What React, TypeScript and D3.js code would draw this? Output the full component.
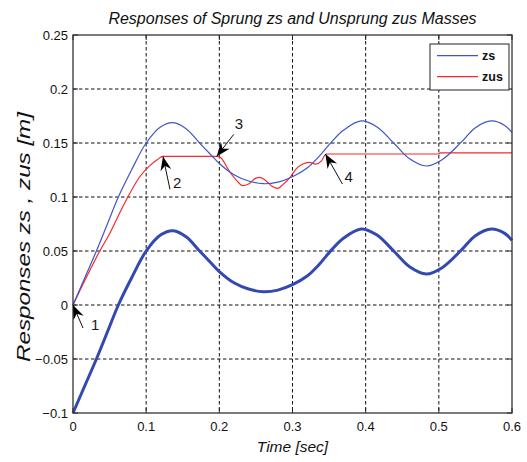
import React from "react";
import * as d3 from "d3";

// Sprung mass response zs (thin line) and its offset trace (thick line)
const zsTime = [0, 0.016, 0.032, 0.047, 0.062, 0.08, 0.1, 0.12, 0.137, 0.155, 0.173, 0.19, 0.2, 0.22, 0.24, 0.26, 0.28, 0.3, 0.32, 0.337, 0.351, 0.37, 0.394, 0.415, 0.44, 0.46, 0.483, 0.505, 0.531, 0.55, 0.572, 0.59, 0.6];
const zsValues = [0, 0.025, 0.05, 0.075, 0.1, 0.125, 0.15, 0.165, 0.1688, 0.163, 0.15, 0.138, 0.131, 0.1206, 0.1148, 0.1123, 0.1138, 0.1188, 0.1268, 0.138, 0.1492, 0.162, 0.1704, 0.165, 0.1488, 0.1354, 0.1287, 0.1348, 0.151, 0.1642, 0.1704, 0.1663, 0.1598];
const zsOffsetValues = [-0.1, -0.075, -0.05, -0.025, 0, 0.025, 0.05, 0.065, 0.0688, 0.063, 0.05, 0.038, 0.031, 0.0206, 0.0148, 0.0123, 0.0138, 0.0188, 0.0268, 0.038, 0.0492, 0.062, 0.0704, 0.065, 0.0488, 0.0354, 0.0287, 0.0348, 0.051, 0.0642, 0.0704, 0.0663, 0.0598];

// Unsprung mass response zus
const zusTime = [0, 0.02, 0.037, 0.05, 0.0665, 0.075, 0.091, 0.105, 0.115, 0.123, 0.198, 0.205, 0.21, 0.224, 0.232, 0.24, 0.25, 0.255, 0.262, 0.272, 0.28, 0.286, 0.297, 0.305, 0.314, 0.323, 0.332, 0.34, 0.3456, 0.5, 0.502, 0.6];
const zusValues = [0, 0.028, 0.0505, 0.066, 0.0889, 0.1, 0.1185, 0.129, 0.1345, 0.1376, 0.1376, 0.134, 0.128, 0.115, 0.1105, 0.112, 0.1175, 0.1182, 0.116, 0.11, 0.108, 0.111, 0.1185, 0.126, 0.1305, 0.132, 0.1305, 0.1336, 0.1398, 0.1398, 0.1408, 0.1408];

const xTicks = [0, 0.1, 0.2, 0.3, 0.4, 0.5, 0.6];
const yTicks = [-0.1, -0.05, 0, 0.05, 0.1, 0.15, 0.2, 0.25];

// Numbered arrows: tip in data units, label text
const markerTime = [0, 0.123, 0.1964, 0.345];
const markerValue = [0, 0.1376, 0.1376, 0.1398];
const markerLabels = ["1", "2", "3", "4"];
// tail offset (px) and label anchor offset (px) relative to the tip
const markerTail: [number, number][] = [[10, 23], [7, 33], [17, -22], [17, 30]];
const markerText: [number, number][] = [[18, 25], [10, 32], [18, -27], [19, 28]];

const W = 527;
const H = 462;
const M = { left: 73, right: 512, top: 35, bottom: 413 };
const FONT = "'Liberation Sans', Arial, Helvetica, sans-serif";

export default function App() {
  const x = d3.scaleLinear().domain([0, 0.6]).range([M.left, M.right]);
  const y = d3.scaleLinear().domain([-0.1, 0.25]).range([M.bottom, M.top]);

  const smooth = d3
    .line<[number, number]>()
    .x((d) => x(d[0]))
    .y((d) => y(d[1]))
    .curve(d3.curveCatmullRom.alpha(0.5));

  const monotone = d3
    .line<[number, number]>()
    .x((d) => x(d[0]))
    .y((d) => y(d[1]))
    .curve(d3.curveMonotoneX);

  const zsPts = zsTime.map((t, i) => [t, zsValues[i]] as [number, number]);
  const zsOffPts = zsTime.map((t, i) => [t, zsOffsetValues[i]] as [number, number]);
  const zusPts = zusTime.map((t, i) => [t, zusValues[i]] as [number, number]);

  const tickLen = 5;
  const dash = "3.5,2.5";

  const arrowHead = (tx: number, ty: number, ax: number, ay: number) => {
    const len = Math.hypot(ax - tx, ay - ty);
    const ux = (ax - tx) / len;
    const uy = (ay - ty) / len;
    const px = -uy;
    const py = ux;
    const hl = 14;
    const hw = 5.5;
    const bx = tx + ux * hl;
    const by = ty + uy * hl;
    const nx = tx + ux * hl * 0.68;
    const ny = ty + uy * hl * 0.68;
    return `M${tx},${ty} L${bx + px * hw},${by + py * hw} L${nx},${ny} L${bx - px * hw},${by - py * hw} Z`;
  };

  return (
    <svg
      width={W}
      height={H}
      style={{ position: "absolute", left: 0, top: 0, background: "#fff" }}
      fontFamily={FONT}
    >
      <rect x={0} y={0} width={W} height={H} fill="#fff" />

      {/* grid */}
      <g stroke="#111" strokeWidth={1} strokeDasharray={dash}>
        {xTicks.slice(1, -1).map((t) => (
          <line key={"gx" + t} x1={x(t)} x2={x(t)} y1={M.top} y2={M.bottom} />
        ))}
        {yTicks.slice(1, -1).map((t) => (
          <line key={"gy" + t} x1={M.left} x2={M.right} y1={y(t)} y2={y(t)} />
        ))}
      </g>

      {/* ticks on all four sides */}
      <g stroke="#222" strokeWidth={1}>
        {xTicks.map((t) => (
          <g key={"tx" + t}>
            <line x1={x(t)} x2={x(t)} y1={M.bottom} y2={M.bottom - tickLen} />
            <line x1={x(t)} x2={x(t)} y1={M.top} y2={M.top + tickLen} />
          </g>
        ))}
        {yTicks.map((t) => (
          <g key={"ty" + t}>
            <line x1={M.left} x2={M.left + tickLen} y1={y(t)} y2={y(t)} />
            <line x1={M.right} x2={M.right - tickLen} y1={y(t)} y2={y(t)} />
          </g>
        ))}
      </g>

      {/* series */}
      <path d={smooth(zsOffPts) ?? ""} fill="none" stroke="#3349b0" strokeWidth={3} strokeLinejoin="round" />
      <path d={monotone(zusPts) ?? ""} fill="none" stroke="#f52a2a" strokeWidth={1.2} />
      <path d={smooth(zsPts) ?? ""} fill="none" stroke="#3f55c8" strokeWidth={1.2} />

      {/* frame */}
      <rect
        x={M.left}
        y={M.top}
        width={M.right - M.left}
        height={M.bottom - M.top}
        fill="none"
        stroke="#333"
        strokeWidth={1.3}
      />

      {/* tick labels */}
      <g fontSize={13} fill="#111">
        {xTicks.map((t) => (
          <text key={"lx" + t} x={x(t)} y={M.bottom + 18} textAnchor="middle">
            {d3.format("")(t)}
          </text>
        ))}
        {yTicks.map((t) => (
          <text key={"ly" + t} x={M.left - 5} y={y(t)} dy="0.35em" textAnchor="end">
            {d3.format("")(t)}
          </text>
        ))}
      </g>

      {/* titles */}
      <text x={(M.left + M.right) / 2} y={24} textAnchor="middle" fontSize={16} fontStyle="italic" fill="#111">
        Responses of Sprung zs and Unsprung zus Masses
      </text>
      <text x={(M.left + M.right) / 2} y={452} textAnchor="middle" fontSize={15.5} fontStyle="italic" fill="#111">
        Time [sec]
      </text>
      <text
        transform={`translate(30,237) rotate(-90)`}
        textAnchor="middle"
        fontSize={18}
        fontStyle="italic"
        fill="#111"
        textLength={250}
        lengthAdjust="spacingAndGlyphs"
      >
        Responses  zs , zus [m]
      </text>

      {/* numbered arrows */}
      {markerLabels.map((lab, i) => {
        const tx = x(markerTime[i]);
        const ty = y(markerValue[i]);
        const ax = tx + markerTail[i][0];
        const ay = ty + markerTail[i][1];
        return (
          <g key={"m" + lab}>
            <line x1={tx} y1={ty} x2={ax} y2={ay} stroke="#111" strokeWidth={1} />
            <path d={arrowHead(tx, ty, ax, ay)} fill="#000" />
            <text x={tx + markerText[i][0]} y={ty + markerText[i][1]} fontSize={15} fill="#1a1a1a">
              {lab}
            </text>
          </g>
        );
      })}

      {/* legend */}
      <g>
        <rect x={430} y={44} width={79} height={46} fill="#fff" stroke="#222" strokeWidth={1} />
        <line x1={437} x2={478} y1={55.7} y2={55.7} stroke="#3f55c8" strokeWidth={1.2} />
        <line x1={437} x2={478} y1={76.7} y2={76.7} stroke="#f52a2a" strokeWidth={1.2} />
        <text x={482} y={60} fontSize={12.5} fontWeight="bold" fill="#111">zs</text>
        <text x={482} y={81} fontSize={12.5} fontWeight="bold" fill="#111">zus</text>
      </g>
    </svg>
  );
}
